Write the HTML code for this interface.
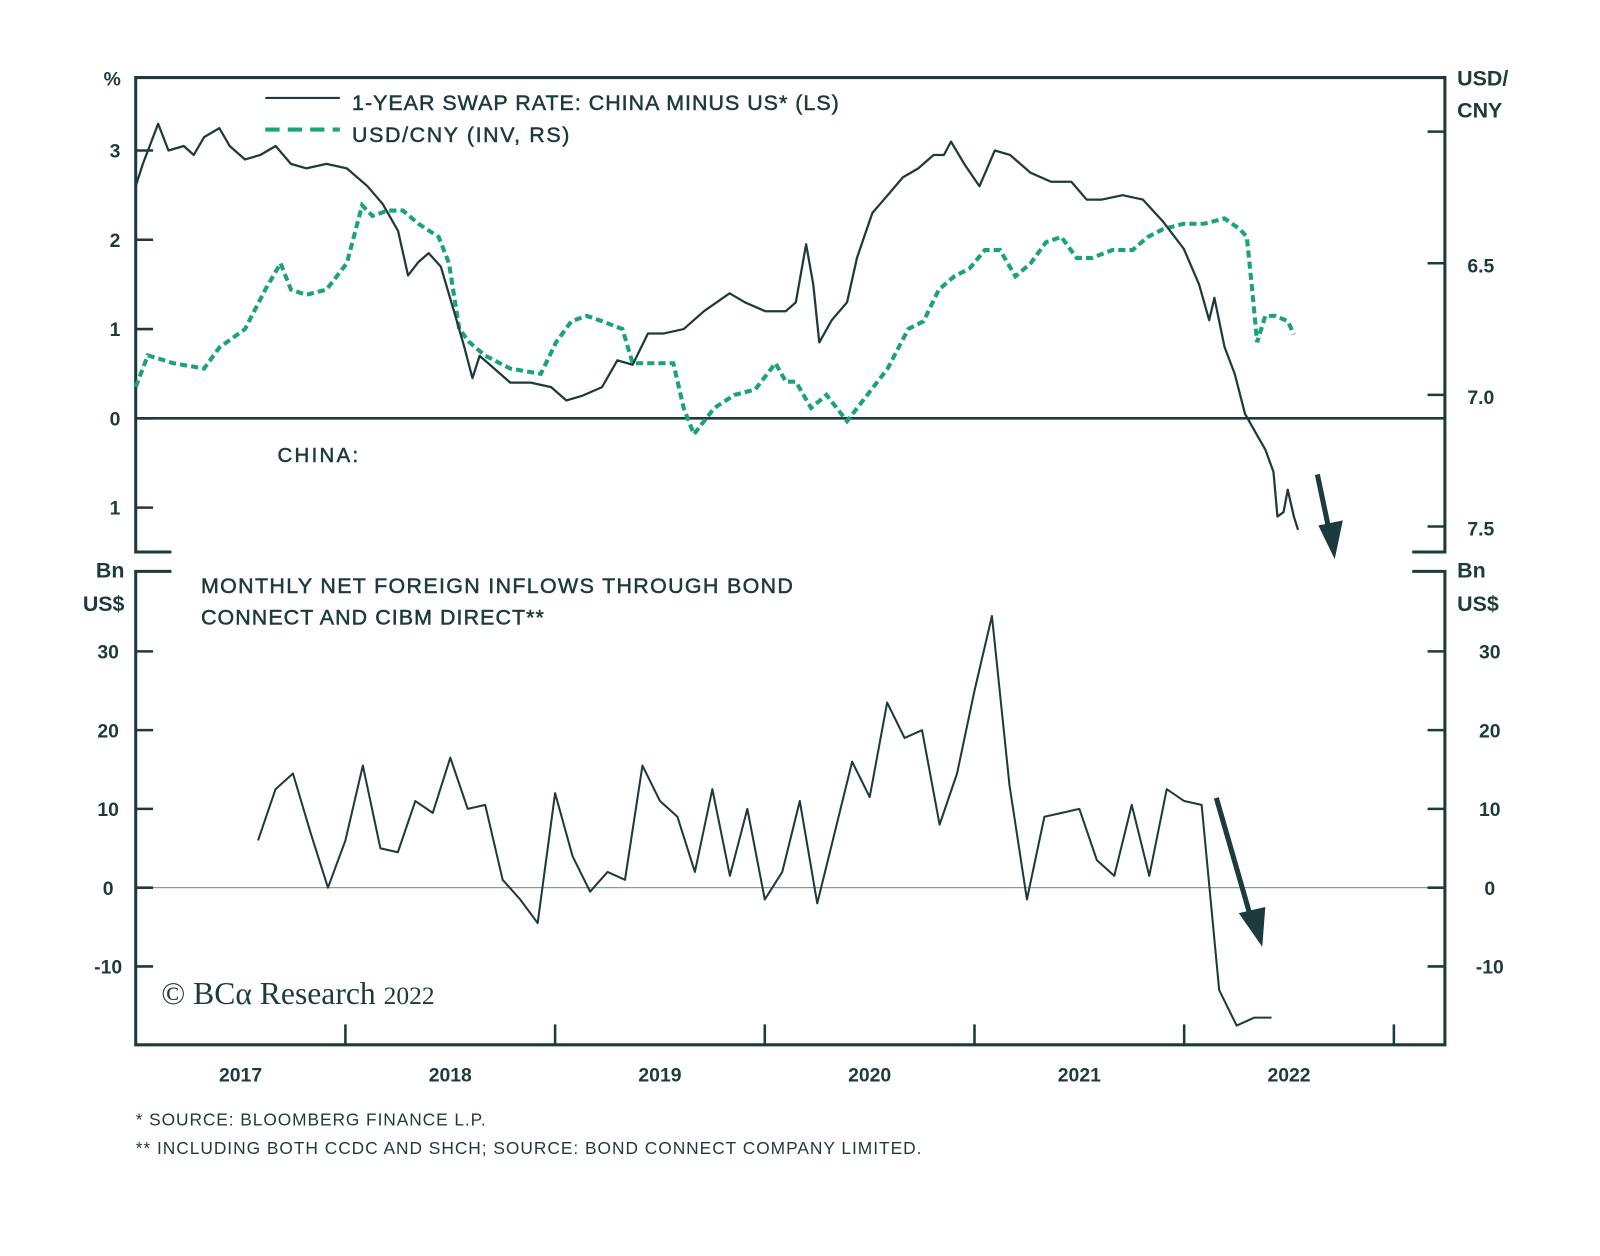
<!DOCTYPE html>
<html><head><meta charset="utf-8"><style>
html,body{margin:0;padding:0;background:#fff;}
svg{display:block;}
text{font-family:"Liberation Sans",sans-serif;fill:#1d3b3d;}
.ax{font-weight:bold;font-size:19px;}
.md{stroke:#1d3b3d;stroke-width:0.5px;}
</style></head><body>
<svg id="chart" width="1600" height="1256" viewBox="0 0 1568 1231" preserveAspectRatio="none" xmlns="http://www.w3.org/2000/svg">
<g id="frame" stroke="#1d3b3d" stroke-width="3" fill="none">
<path d="M168 541 H133 V76 H1416 V541 H1384"/>
<path d="M168 560 H133 V1024 H1416 V560 H1384"/>
<line x1="133" y1="410" x2="1416" y2="410" stroke-width="2.5"/>
<line x1="133" y1="870" x2="1416" y2="870" stroke="#8a9a9a" stroke-width="1.2"/>
</g>
<g id="ticks"></g>
<g id="labels">
<text class="ax" x="110" y="84" text-anchor="middle">%</text>
<text class="ax" x="1428" y="84" style="font-size:21px">USD/</text>
<text class="ax" x="1428" y="115" style="font-size:21px">CNY</text>
<text class="ax" x="122" y="566" text-anchor="end" style="font-size:21px">Bn</text>
<text class="ax" x="122" y="599" text-anchor="end" style="font-size:21px">US$</text>
<text class="ax" x="1428" y="566" style="font-size:21px">Bn</text>
<text class="ax" x="1428" y="599" style="font-size:21px">US$</text>
<text class="md" x="272" y="453" style="font-size:20px" textLength="79">CHINA:</text>
<text class="md" x="197" y="581" style="font-size:21px" textLength="580">MONTHLY NET FOREIGN INFLOWS THROUGH BOND</text>
<text class="md" x="197" y="612" style="font-size:21px" textLength="336">CONNECT AND CIBM DIRECT**</text>
<text x="158" y="984" style="font-family:'Liberation Serif',serif;font-size:31px">© BCα Research <tspan style="font-size:25px">2022</tspan></text>
<text x="133" y="1103" style="font-size:17px" textLength="343">*  SOURCE: BLOOMBERG FINANCE L.P.</text>
<text x="133" y="1131" style="font-size:17px" textLength="770">** INCLUDING BOTH CCDC AND SHCH; SOURCE: BOND CONNECT COMPANY LIMITED.</text>
</g>
<g id="legend">
<line x1="260" y1="96" x2="333" y2="96" stroke="#1d3b3d" stroke-width="2"/>
<text class="md" x="345" y="108" style="font-size:21px" textLength="477">1-YEAR SWAP RATE: CHINA MINUS US* (LS)</text>
<line x1="260" y1="127" x2="333" y2="127" stroke="#1aa37a" stroke-width="4" stroke-dasharray="14 8"/>
<text class="md" x="345" y="139" style="font-size:21px" textLength="213">USD/CNY (INV, RS)</text>
</g>
<g id="series"></g>
<g id="arrows" stroke="#1d3b3d" fill="#1d3b3d">
<line x1="1291" y1="465" x2="1303" y2="522" stroke-width="5"/>
<polygon points="1292,515 1316,510 1308,548" stroke="none"/>
<line x1="1192" y1="782" x2="1226" y2="900" stroke-width="5"/>
<polygon points="1214,895 1240,889 1237,928" stroke="none"/>
</g>
</svg>
<script>
// top panel: t = years since 2017
const swapT=[0,.034,.107,.156,.229,.277,.326,.399,.448,.521,.594,.667,.740,.813,.910,1.007,1.105,1.178,1.251,1.299,1.348,1.397,1.455,1.518,1.567,1.606,1.640,1.689,1.786,1.883,1.981,2.054,2.127,2.224,2.297,2.370,2.443,2.516,2.613,2.710,2.832,2.905,3.002,3.100,3.148,3.197,3.231,3.260,3.319,3.392,3.440,3.513,3.586,3.659,3.732,3.805,3.854,3.888,3.951,4.024,4.097,4.170,4.268,4.365,4.462,4.535,4.608,4.706,4.803,4.900,4.998,5.071,5.119,5.144,5.192,5.241,5.290,5.338,5.387,5.426,5.445,5.474,5.494,5.523,5.543];
const swapV=[2.6,2.85,3.3,3.0,3.05,2.95,3.15,3.25,3.05,2.9,2.95,3.05,2.85,2.8,2.85,2.8,2.6,2.4,2.1,1.6,1.75,1.85,1.7,1.2,0.8,0.45,0.7,0.6,0.4,0.4,0.35,0.2,0.25,0.35,0.65,0.6,0.95,0.95,1.0,1.2,1.4,1.3,1.2,1.2,1.3,1.95,1.5,0.85,1.1,1.3,1.8,2.3,2.5,2.7,2.8,2.95,2.95,3.1,2.85,2.6,3.0,2.95,2.75,2.65,2.65,2.45,2.45,2.5,2.45,2.2,1.9,1.5,1.1,1.35,0.8,0.5,0.05,-0.15,-0.35,-0.6,-1.1,-1.05,-0.8,-1.1,-1.25];
const cnyT=[0,.058,.180,.326,.399,.521,.618,.691,.740,.813,.910,1.007,1.080,1.129,1.202,1.275,1.348,1.445,1.494,1.543,1.591,1.664,1.786,1.932,2.005,2.078,2.151,2.224,2.321,2.370,2.467,2.564,2.613,2.662,2.759,2.856,2.954,3.051,3.100,3.148,3.221,3.294,3.392,3.489,3.586,3.684,3.757,3.830,3.903,3.976,4.049,4.122,4.195,4.268,4.341,4.414,4.487,4.560,4.657,4.754,4.827,4.900,4.998,5.095,5.192,5.265,5.299,5.324,5.348,5.387,5.436,5.494,5.523];
const cnyV=[6.97,6.85,6.88,6.9,6.82,6.75,6.6,6.5,6.6,6.62,6.6,6.5,6.28,6.32,6.3,6.3,6.35,6.4,6.5,6.75,6.8,6.85,6.9,6.92,6.8,6.72,6.7,6.72,6.75,6.88,6.88,6.88,7.05,7.15,7.05,7.0,6.98,6.88,6.95,6.95,7.05,7.0,7.1,7.0,6.9,6.75,6.72,6.6,6.55,6.52,6.45,6.45,6.55,6.5,6.42,6.4,6.48,6.48,6.45,6.45,6.4,6.37,6.35,6.35,6.33,6.37,6.4,6.6,6.8,6.7,6.7,6.72,6.77];
// bottom panel: monthly flows, first month index 7 (Aug 2017)
const flowStart=7;
const flowV=[6,12.5,14.5,7,0,6,15.5,5,4.5,11,9.5,16.5,10,10.5,1,-1.5,-4.5,12,4,-0.5,2,1,15.5,11,9,2,12.5,1.5,10,-1.5,2,11,-2,7,16,11.5,23.5,19,20,8,14.5,25,34.5,13,-1.5,9,9.5,10,3.5,1.5,10.5,1.5,12.5,11,10.5,-13,-17.5,-16.5,-16.5];
const leftTicks=[3,2,1,0,-1];
const leftTickLabels=['3','2','1','0','1'];
const rightTicks=[6.0,6.5,7.0,7.5];
const rightTickLabels=['','6.5','7.0','7.5'];
const flowTicks=[30,20,10,0,-10];
const flowTickLabels=['30','20','10','0','-10'];
const years=['2017','2018','2019','2020','2021','2022'];

const NS='http://www.w3.org/2000/svg';
const X0=133, YW=205.5;
const xT=t=>X0+t*YW;
const yL=v=>410-v*87.5;
const yR=v=>129+(v-6.0)*258;
const yF=v=>870-v*7.72;
function mk(tag,attrs,parent){const e=document.createElementNS(NS,tag);for(const k in attrs)e.setAttribute(k,attrs[k]);parent.appendChild(e);return e;}
const ticks=document.getElementById('ticks');
const ser=document.getElementById('series');
leftTicks.forEach((v,i)=>{
  const l=mk('line',{x1:133,x2:150,y1:yL(v),y2:yL(v),stroke:'#1d3b3d','stroke-width':2.5},ticks);
  
  
  const t=mk('text',{x:118,y:yL(v)+7,'text-anchor':'end','class':'ax'},ticks);
  t.textContent=leftTickLabels[i];
  
  
});
rightTicks.forEach((v,i)=>{
  const l=mk('line',{x1:1399,x2:1416,y1:yR(v),y2:yR(v),stroke:'#1d3b3d','stroke-width':2.5},ticks);
  
  
  const t=mk('text',{x:1438,y:yR(v)+9,'class':'ax'},ticks);
  t.textContent=rightTickLabels[i];
  
  
});
flowTicks.forEach((v,i)=>{
  [[133,150],[1399,1416]].forEach(([a,b],j)=>{
    const l=mk('line',{x1:a,x2:b,y1:yF(v),y2:yF(v),stroke:'#1d3b3d','stroke-width':2.5},ticks);
    
    
    const t=mk('text',{x:j?1460:106,y:yF(v)+7,'text-anchor':'middle','class':'ax'},ticks);
    t.textContent=flowTickLabels[i];
    
    
  });
});
years.forEach((y,i)=>{
  const l=mk('line',{x1:xT(i+1),x2:xT(i+1),y1:1024,y2:1004,stroke:'#1d3b3d','stroke-width':2.5},ticks);
  
  
  const t=mk('text',{x:xT(i+0.5),y:1060,'text-anchor':'middle','class':'ax'},ticks);
  t.textContent=y;
  
  
});
const cnyPath=mk('path',{d:cnyT.map((t,i)=>(i?'L':'M')+xT(t).toFixed(1)+' '+yR(cnyV[i]).toFixed(1)).join(' '),fill:'none',stroke:'#1aa37a','stroke-width':4,'stroke-dasharray':'7 4'},ser);


const swapPath=mk('path',{d:swapT.map((t,i)=>(i?'L':'M')+xT(t).toFixed(1)+' '+yL(swapV[i]).toFixed(1)).join(' '),fill:'none',stroke:'#1d3b3d','stroke-width':2.2,'stroke-linejoin':'round'},ser);


const flowPath=mk('path',{d:flowV.map((v,i)=>(i?'L':'M')+xT((flowStart+i)/12).toFixed(1)+' '+yF(v).toFixed(1)).join(' '),fill:'none',stroke:'#1d3b3d','stroke-width':2,'stroke-linejoin':'round'},ser);


</script>
</body></html>
